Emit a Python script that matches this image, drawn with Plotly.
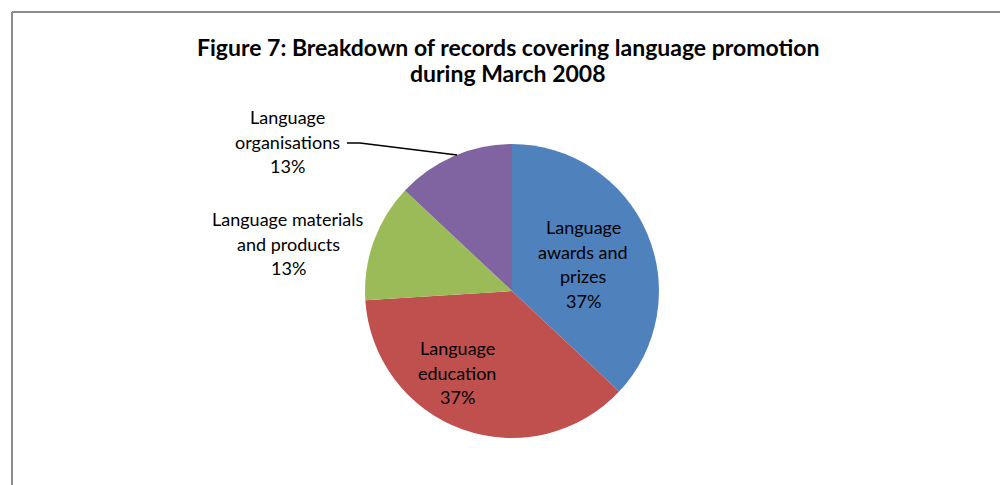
import plotly.graph_objects as go

# Record categories, listed clockwise from 12 o'clock
categories = [
    "Language awards and prizes",
    "Language education",
    "Language materials and products",
    "Language organisations",
]
shares = [37, 37, 13, 13]
slice_colors = ["#4F81BD", "#C0504D", "#9BBB59", "#8064A2"]

# Label wording, split into display lines
label_lines = [
    ["Language", "awards and", "prizes"],
    ["Language", "education"],
    ["Language materials", "and products"],
    ["Language", "organisations"],
]
title_lines = [
    "Figure 7: Breakdown of records covering language promotion",
    "during March 2008",
]

W, H = 1000, 485
FONT = "Lato"


def px(x, y):
    """Convert pixel position (from top-left) to paper coordinates."""
    return x / W, 1 - y / H


fig = go.Figure()
fig.add_trace(
    go.Pie(
        labels=categories,
        values=shares,
        sort=False,
        direction="clockwise",
        rotation=0,
        marker=dict(colors=slice_colors, line=dict(width=0)),
        textinfo="none",
        hoverinfo="label+percent",
        showlegend=False,
        domain=dict(x=[0.365, 0.659], y=[0.097, 0.703]),
    )
)

annotations = []

# two-line chart title
for i, row in enumerate(title_lines):
    x, y = px(508, 47 + i * 26)
    annotations.append(
        dict(x=x, y=y, xref="paper", yref="paper", text=row, showarrow=False,
             xanchor="center", yanchor="middle",
             font=dict(family=FONT, size=23, color="#000000", weight="bold"))
    )

total = sum(shares)
# label anchor (centre x, first line y) in pixels for each slice
anchors = [(583, 227), (457, 348), (288, 219), (287, 117)]
line_gap = 24.5
for lines, val, (cx, cy) in zip(label_lines, shares, anchors):
    rows = lines + [f"{round(100 * val / total)}%"]
    for i, row in enumerate(rows):
        x, y = px(cx, cy + i * line_gap)
        annotations.append(
            dict(
                x=x, y=y, xref="paper", yref="paper",
                text=row, showarrow=False,
                xanchor="center", yanchor="middle",
                font=dict(family=FONT, size=18, color="#000000"),
            )
        )

# leader line for the organisations label
x0, y0 = px(347, 143)
x1, y1 = px(360, 143)
x2, y2 = px(457, 155)
shapes = [
    dict(type="path", xref="paper", yref="paper",
         path=f"M {x0},{y0} L {x1},{y1} L {x2},{y2}",
         line=dict(color="#000000", width=1.5)),
]

# chart-area frame (left and top edges)
fx, fy = px(12, 12)
shapes.append(dict(type="line", xref="paper", yref="paper",
                   x0=fx, y0=0, x1=fx, y1=fy,
                   line=dict(color="#8C8C8C", width=2)))
shapes.append(dict(type="line", xref="paper", yref="paper",
                   x0=fx, y0=fy, x1=1, y1=fy,
                   line=dict(color="#8C8C8C", width=2)))

fig.update_layout(
    width=W, height=H,
    margin=dict(l=0, r=0, t=0, b=0),
    paper_bgcolor="#FFFFFF",
    plot_bgcolor="#FFFFFF",
    annotations=annotations,
    shapes=shapes,
)

fig.write_html("out.html")
